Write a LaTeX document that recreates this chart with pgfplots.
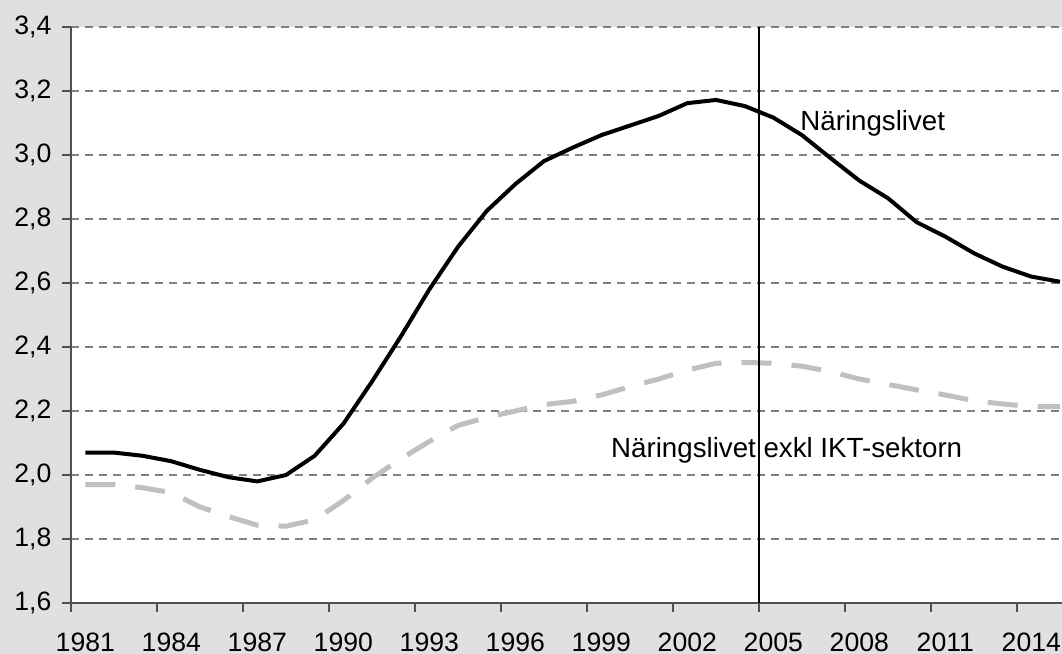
\documentclass[border=0pt]{standalone}
\usepackage{fontspec}
\setmainfont{Liberation Sans}
\usepackage{pgfplots}
\usepackage{pgfplotstable}
\pgfplotsset{compat=1.18}
\usetikzlibrary{backgrounds}

\definecolor{bggray}{RGB}{224,224,224}
\definecolor{gridgray}{RGB}{128,128,128}
\definecolor{ictgray}{RGB}{192,192,192}
\definecolor{axisgray}{RGB}{80,80,80}

% Naringslivet totalt
\pgfplotstableread{
year val
1981 2.070
1982 2.070
1983 2.060
1984 2.043
1985 2.016
1986 1.993
1987 1.980
1988 2.000
1989 2.060
1990 2.160
1991 2.292
1992 2.432
1993 2.580
1994 2.713
1995 2.825
1996 2.909
1997 2.981
1998 3.023
1999 3.062
2000 3.092
2001 3.122
2002 3.162
2003 3.172
2004 3.153
2005 3.117
2006 3.062
2007 2.990
2008 2.920
2009 2.865
2010 2.790
2011 2.745
2012 2.693
2013 2.651
2014 2.620
2015 2.604
}\naringsliv

% exkl IKT-sektorn
\pgfplotstableread{
year val
1981 1.970
1982 1.970
1983 1.960
1984 1.945
1985 1.900
1986 1.870
1987 1.843
1988 1.840
1989 1.860
1990 1.920
1991 1.990
1992 2.050
1993 2.105
1994 2.155
1995 2.180
1996 2.200
1997 2.220
1998 2.230
1999 2.250
2000 2.276
2001 2.300
2002 2.328
2003 2.349
2004 2.352
2005 2.349
2006 2.340
2007 2.323
2008 2.300
2009 2.283
2010 2.266
2011 2.250
2012 2.232
2013 2.222
2014 2.214
2015 2.214
}\exklikt

\begin{document}
\begin{tikzpicture}
\begin{axis}[
    scale only axis,
    width=495.5pt, height=288pt,
    xmin=1980.5, xmax=2015.07,
    ymin=1.6, ymax=3.4,
    axis x line*=bottom, axis y line*=left,
    axis line style={axisgray, line width=0.8pt},
    axis background/.style={fill=white},
    tick align=outside,
    major tick length=4.5pt,
    tick style={axisgray, line width=0.8pt},
    every tick label/.append style={font=\fontsize{13.3}{16}\selectfont},
    /pgf/number format/assume math mode=true,
    xtick={1980.5,1983.5,1986.5,1989.5,1992.5,1995.5,1998.5,2001.5,2004.5,2007.5,2010.5,2013.5},
    xticklabels={},
    extra x ticks={1981,1984,1987,1990,1993,1996,1999,2002,2005,2008,2011,2014},
    extra x tick labels={1981,1984,1987,1990,1993,1996,1999,2002,2005,2008,2011,2014},
    extra x tick style={major tick length=0pt, xticklabel style={yshift=-11.2pt}},
    ytick={1.6,1.8,2.0,2.2,2.4,2.6,2.8,3.0,3.2,3.4},
    yticklabels={{1,6},{1,8},{2,0},{2,2},{2,4},{2,6},{2,8},{3,0},{3,2},{3,4}},
    yticklabel style={xshift=-1.8pt},
    ymajorgrids,
    grid style={gridgray, line width=0.7pt, dash pattern=on 4pt off 3pt},
]
\addplot[ictgray, line width=2.5pt, line join=round, dash pattern=on 15pt off 10pt]
    table[x=year, y=val] {\exklikt};
\addplot[black, line width=2pt, line join=round] table[x=year, y=val] {\naringsliv};
\addplot[black, line width=0.75pt] coordinates {(2004.5,1.6) (2004.5,3.4)};
\node[anchor=base west, inner sep=0pt, font=\fontsize{13.85}{16}\selectfont]
    at (axis cs:2005.93,3.076) {Näringslivet};
\node[anchor=base west, inner sep=0pt, font=\fontsize{13.85}{16}\selectfont]
    at (axis cs:1999.33,2.054) {Näringslivet exkl IKT-sektorn};
\end{axis}
\begin{scope}[on background layer]
\fill[bggray] (-35.5pt,-25.5pt) rectangle (495.5pt,301.5pt);
\end{scope}
\pgfresetboundingbox
\path (-35.5pt,-25.5pt) rectangle (495.5pt,301.5pt);
\end{tikzpicture}
\end{document}
